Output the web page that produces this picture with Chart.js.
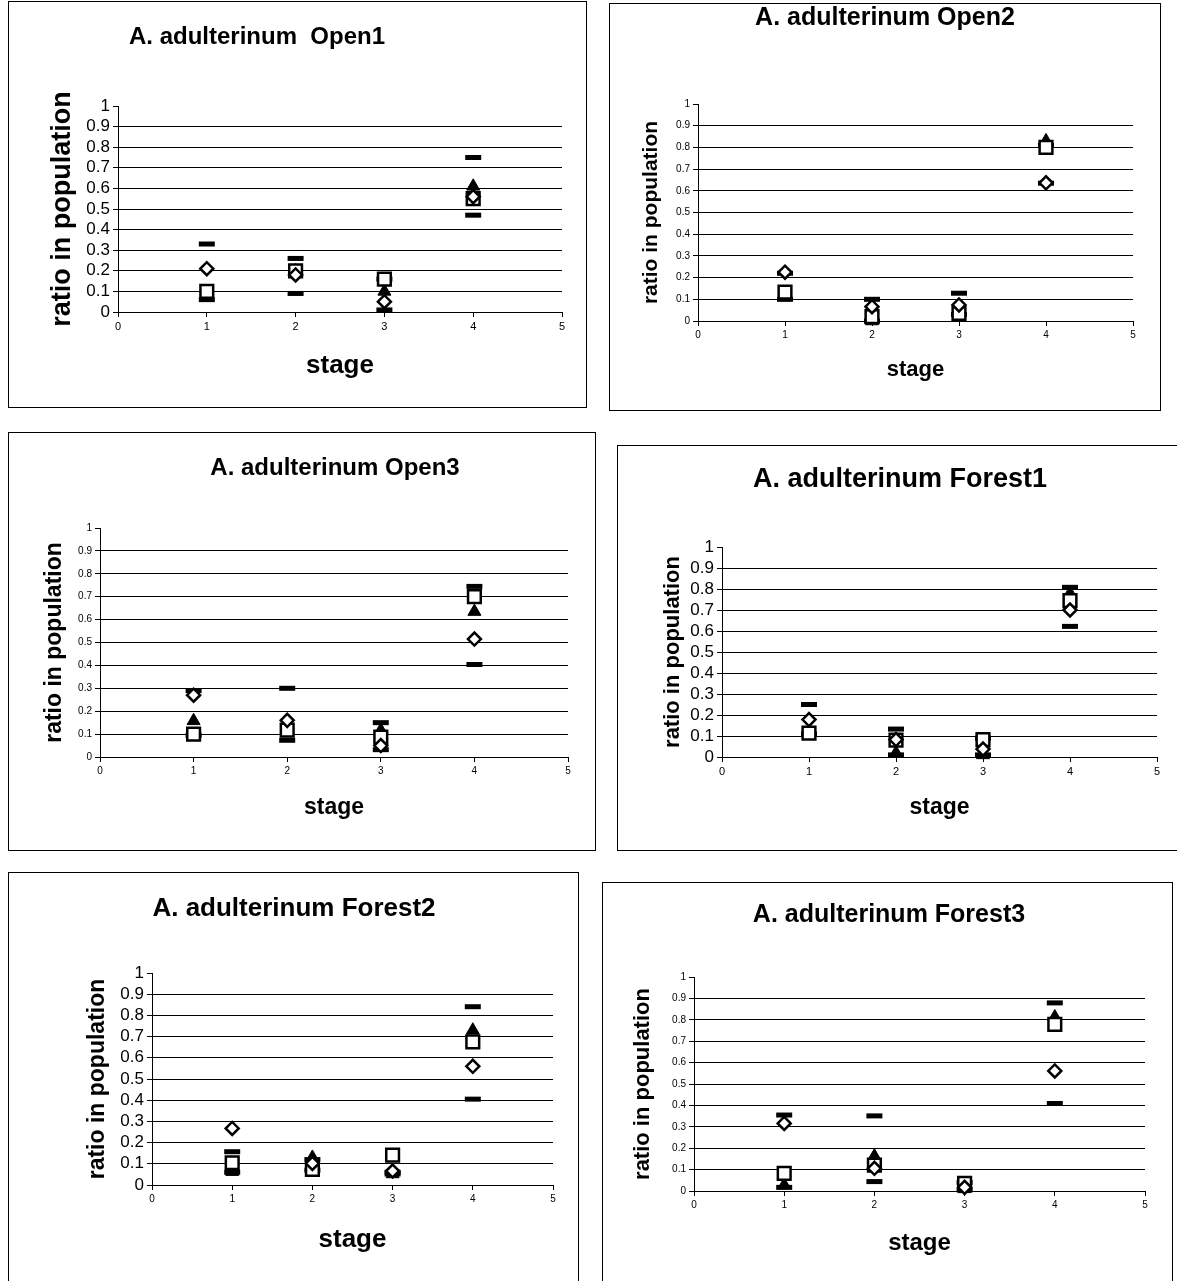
<!DOCTYPE html>
<html>
<head>
<meta charset="utf-8">
<script src="https://cdn.jsdelivr.net/npm/chart.js@4.4.0/dist/chart.umd.min.js"></script>
<style>
  body { margin: 0; background: #fff; width: 1177px; height: 1281px; overflow: hidden; position: relative; font-family: "Liberation Sans", Arial, sans-serif; }
  .panel { position: absolute; border: 1px solid #000; box-sizing: border-box; background: #fff; }
  .panel canvas { position: absolute; left: 0; top: 0; }
  .ttl { position: absolute; width: 600px; text-align: center; font-weight: bold; line-height: 1; white-space: pre; color: #000; z-index: 2; }
</style>
</head>
<body>
<script>
// stages on the x axis and tick labels
const stages = [1, 2, 3, 4];
const xTickLabels = ['0', '1', '2', '3', '4', '5'];
const yTickLabels = ['0', '0.1', '0.2', '0.3', '0.4', '0.5', '0.6', '0.7', '0.8', '0.9', '1'];
const yTitle = 'ratio in population';
const xTitle = 'stage';

const titles = [
    'A. adulterinum  Open1',
    'A. adulterinum Open2',
    'A. adulterinum Open3',
    'A. adulterinum Forest1',
    'A. adulterinum Forest2',
    'A. adulterinum Forest3'
];

// Open1
const open1Diamond  = [0.21, 0.18, 0.05, 0.56];
const open1Square   = [0.10, 0.20, 0.16, 0.55];
const open1Triangle = [0.07, 0.20, 0.10, 0.61];
const open1Upper    = [0.33, 0.26, 0.16, 0.75];
const open1Lower    = [0.06, 0.09, 0.01, 0.47];

// Open2
const open2Diamond  = [0.225, 0.066, 0.074, 0.637];
const open2Square   = [0.133, 0.02, 0.035, 0.80];
const open2Triangle = [0.11, 0.0, 0.05, 0.83];
const open2Upper    = [0.22, 0.10, 0.128, 0.81];
const open2Lower    = [0.10, 0.0, 0.03, 0.635];

// Open3
const open3Diamond  = [0.27, 0.16, 0.05, 0.515];
const open3Square   = [0.10, 0.117, 0.087, 0.70];
const open3Triangle = [0.158, 0.12, 0.117, 0.635];
const open3Upper    = [0.29, 0.30, 0.15, 0.745];
const open3Lower    = [0.095, 0.073, 0.032, 0.404];

// Forest1
const forest1Diamond  = [0.178, 0.083, 0.038, 0.70];
const forest1Square   = [0.114, 0.08, 0.083, 0.745];
const forest1Triangle = [0.11, 0.02, 0.01, 0.78];
const forest1Upper    = [0.25, 0.133, 0.09, 0.808];
const forest1Lower    = [0.11, 0.01, 0.01, 0.622];

// Forest2
const forest2Diamond  = [0.267, 0.102, 0.066, 0.56];
const forest2Square   = [0.105, 0.074, 0.141, 0.675];
const forest2Triangle = [0.063, 0.13, 0.052, 0.73];
const forest2Upper    = [0.157, 0.12, 0.06, 0.841];
const forest2Lower    = [0.06, 0.07, 0.052, 0.405];

// Forest3
const forest3Diamond  = [0.316, 0.106, 0.017, 0.561];
const forest3Square   = [0.082, 0.121, 0.036, 0.779];
const forest3Triangle = [0.028, 0.163, 0.01, 0.813];
const forest3Upper    = [0.355, 0.351, 0.04, 0.879];
const forest3Lower    = [0.017, 0.044, 0.005, 0.409];

const panelSeries = [
    [open1Diamond, open1Square, open1Triangle, open1Upper, open1Lower],
    [open2Diamond, open2Square, open2Triangle, open2Upper, open2Lower],
    [open3Diamond, open3Square, open3Triangle, open3Upper, open3Lower],
    [forest1Diamond, forest1Square, forest1Triangle, forest1Upper, forest1Lower],
    [forest2Diamond, forest2Square, forest2Triangle, forest2Upper, forest2Lower],
    [forest3Diamond, forest3Square, forest3Triangle, forest3Upper, forest3Lower]
];

// page layout: box [l,t,r,b], plot [l,t,r,b], title centre, axis title centres,
// font sizes [title, y title, x title, y ticks, x ticks]
const layouts = [
    { box: [8, 1, 587, 408],       plot: [118, 106, 562, 312],  title: [257, 36],  yTitleX: 63,  xTitleY: 366,  f: [24, 27, 26, 17, 11] },
    { box: [609, 3, 1161, 411],    plot: [698, 104, 1133, 321], title: [885, 16],  yTitleX: 651, xTitleY: 370,  f: [25, 21, 22, 10, 10] },
    { box: [8, 432, 596, 851],     plot: [100, 528, 568, 757],  title: [335, 467], yTitleX: 55,  xTitleY: 808,  f: [24, 23, 23, 10, 10] },
    { box: [617, 445, 1180, 851],  plot: [722, 547, 1157, 757], title: [900, 478], yTitleX: 673, xTitleY: 808,  f: [27, 22, 23, 17, 11] },
    { box: [8, 872, 579, 1300],    plot: [152, 973, 553, 1185], title: [294, 907], yTitleX: 98,  xTitleY: 1240, f: [26, 23, 26, 17, 10] },
    { box: [602, 882, 1173, 1300], plot: [694, 977, 1145, 1191], title: [889, 913], yTitleX: 643, xTitleY: 1243, f: [25, 22, 24, 10, 10] }
];

const markers = [
    { style: 'rectRot',  radius: 6.5, fill: '#fff', width: 2.5 },
    { style: 'rect',     radius: 9,   fill: '#fff', width: 2.5 },
    { style: 'triangle', radius: 7.5, fill: '#000', width: 1 },
    { style: 'line',     radius: 8,   fill: '#000', width: 5 },
    { style: 'line',     radius: 8,   fill: '#000', width: 5 }
];

Chart.defaults.font.family = '"Liberation Sans", Arial, sans-serif';
Chart.defaults.color = '#000';

layouts.forEach((lay, p) => {
    const [bl, bt, br, bb] = lay.box;
    const [pl, pt, pr, pb] = lay.plot;
    const [fTitle, fY, fX, fYTick, fXTick] = lay.f;

    const panel = document.createElement('div');
    panel.className = 'panel';
    panel.style.left = bl + 'px';
    panel.style.top = bt + 'px';
    panel.style.width = (br - bl) + 'px';
    panel.style.height = (bb - bt) + 'px';
    document.body.appendChild(panel);

    const cx = bl + 1, cy = bt + 1;
    const cw = br - bl - 2, ch = bb - bt - 2;
    const canvas = document.createElement('canvas');
    canvas.width = cw;
    canvas.height = ch;
    canvas.style.width = cw + 'px';
    canvas.style.height = ch + 'px';
    panel.appendChild(canvas);

    const ttl = document.createElement('div');
    ttl.className = 'ttl';
    ttl.style.fontSize = fTitle + 'px';
    ttl.style.left = (lay.title[0] - 300) + 'px';
    ttl.style.top = Math.round(lay.title[1] - 0.49 * fTitle) + 'px';
    ttl.textContent = titles[p];
    document.body.appendChild(ttl);

    const datasets = panelSeries[p].map((vals, s) => ({
        data: stages.map((st, i) => ({ x: st, y: vals[i] })),
        pointStyle: markers[s].style,
        pointRadius: markers[s].radius,
        pointBackgroundColor: markers[s].fill,
        pointBorderColor: '#000',
        pointBorderWidth: markers[s].width,
        showLine: false,
        clip: false
    }));

    new Chart(canvas.getContext('2d'), {
        type: 'scatter',
        data: { datasets },
        options: {
            responsive: false,
            animation: false,
            events: [],
            layout: { padding: { left: 0, top: pt - cy, right: cx + cw - pr, bottom: 0 } },
            plugins: { legend: { display: false }, tooltip: { enabled: false } },
            scales: {
                x: {
                    type: 'linear', min: 0, max: 5,
                    afterFit: s => { s.height = cy + ch - pb; },
                    ticks: { stepSize: 1, font: { size: fXTick }, padding: 3, maxRotation: 0, autoSkip: false,
                             callback: v => xTickLabels[Math.round(v)] },
                    grid: { drawOnChartArea: false, tickLength: 5, tickColor: '#000' },
                    border: { color: '#000', width: 1 },
                    title: { display: true, text: xTitle, font: { size: fX, weight: 'bold' },
                             padding: { top: 0, bottom: cy + ch - lay.xTitleY - 0.6 * fX } }
                },
                y: {
                    min: 0, max: 1,
                    afterFit: s => { s.width = pl - cx; },
                    ticks: { stepSize: 0.1, font: { size: fYTick }, padding: 3, autoSkip: false,
                             callback: v => yTickLabels[Math.round(v * 10)] },
                    grid: {
                        color: c => (c.tick && c.tick.value >= 0.999) ? 'rgba(0,0,0,0)' : '#000',
                        tickColor: '#000', tickLength: 5, lineWidth: 1
                    },
                    border: { color: '#000', width: 1 },
                    title: { display: true, text: yTitle, font: { size: fY, weight: 'bold' },
                             padding: { top: lay.yTitleX - cx - 0.6 * fY, bottom: 0 } }
                }
            }
        }
    });
});
</script>
</body>
</html>
